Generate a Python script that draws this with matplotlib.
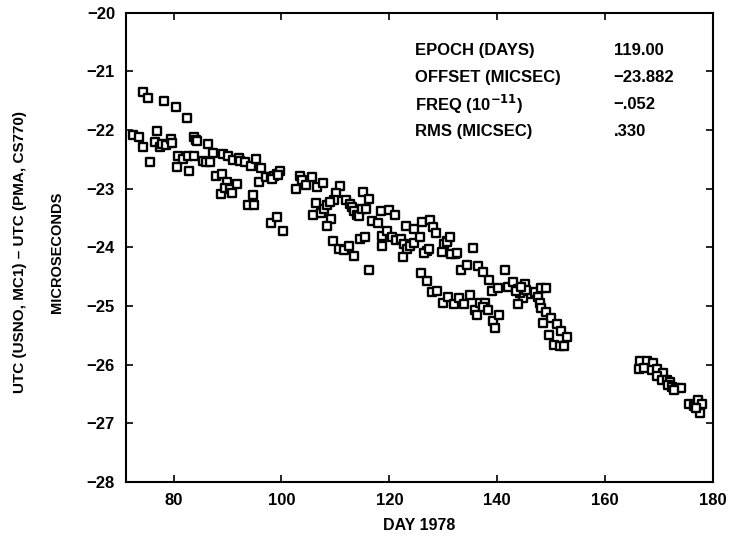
import matplotlib.pyplot as plt

# days (1978) and UTC difference in microseconds
days = [74.3, 75.3, 78.3, 80.4, 82.5, 72.4, 73.5, 74.4, 75.6, 76.9,
        76.5, 77.5, 77.8, 78.6, 79.6, 79.7, 80.9, 80.7, 81.8, 82.7,
        82.9, 83.7, 83.7, 84.2, 84.4, 85.4, 86.0, 86.8, 86.4, 87.4,
        87.9, 89.0, 88.7, 89.2, 90.1, 89.9, 89.6, 90.4, 90.9, 91.7,
        91.0, 92.1, 92.4, 93.2, 94.3, 95.2, 96.2, 95.8, 94.7, 93.8,
        95.0, 98.1, 99.1, 100.2, 97.2, 98.0, 98.7, 99.2, 99.8, 98.3,
        99.4, 102.7, 103.5, 103.8, 104.6, 105.6, 106.5, 106.4, 105.9, 107.7,
        110.9, 110.1, 109.8, 107.4, 107.9, 108.5, 109.0, 109.2, 108.4, 111.9,
        112.8, 113.1, 113.5, 114.0, 114.4, 115.2, 114.9, 115.6, 116.3, 116.8,
        117.9, 118.4, 120.0, 121.1, 109.5, 110.6, 111.6, 112.5, 113.5, 114.5,
        115.4, 116.3, 118.6, 118.7, 119.6, 120.5, 121.3, 122.1, 122.7, 123.3,
        123.9, 124.5, 125.6, 122.5, 123.0, 124.5, 126.1, 127.6, 128.1, 128.6,
        126.9, 126.5, 127.3, 130.7, 130.1, 130.6, 131.2, 129.7, 132.1, 131.5,
        132.5, 135.6, 125.8, 126.9, 127.9, 128.9, 129.9, 130.9, 131.9, 133.0,
        133.9, 135.0, 133.3, 134.4, 136.4, 137.4, 138.5, 135.9, 136.2, 136.8,
        137.8, 137.4, 138.2, 139.0, 140.1, 139.2, 139.5, 140.3, 141.5, 142.0,
        143.0, 143.9, 145.1, 145.7, 144.8, 143.9, 147.0, 147.6, 144.8, 144.3,
        145.4, 143.5, 144.4, 148.1, 149.1, 147.9, 148.2, 149.0, 150.0, 151.1,
        151.9, 152.9, 148.5, 149.6, 150.5, 151.6, 152.4, 166.5, 167.8, 168.8,
        166.3, 167.3, 168.7, 169.7, 170.8, 169.7, 170.6, 171.4, 172.1, 171.6,
        172.4, 173.1, 174.0, 172.7, 175.6, 176.5, 177.2, 178.0, 177.6, 176.8]
utc_diff = [-21.35, -21.46, -21.50, -21.61, -21.80, -22.09, -22.11, -22.28, -22.54, -22.02,
            -22.21, -22.28, -22.23, -22.26, -22.15, -22.22, -22.44, -22.63, -22.50, -22.44,
            -22.70, -22.44, -22.12, -22.17, -22.19, -22.52, -22.55, -22.55, -22.23, -22.39,
            -22.79, -22.75, -23.09, -22.41, -22.45, -22.88, -22.98, -23.01, -23.08, -22.92,
            -22.51, -22.47, -22.52, -22.55, -22.62, -22.50, -22.64, -22.88, -23.10, -23.27,
            -23.27, -23.58, -23.49, -23.72, -22.80, -22.80, -22.79, -22.75, -22.70, -22.84,
            -22.77, -23.00, -22.78, -22.85, -22.94, -22.80, -22.97, -23.25, -23.45, -22.91,
            -22.95, -23.08, -23.20, -23.42, -23.35, -23.28, -23.23, -23.51, -23.64, -23.19,
            -23.26, -23.32, -23.38, -23.44, -23.47, -23.05, -23.34, -23.35, -23.18, -23.55,
            -23.59, -23.38, -23.36, -23.44, -23.89, -24.03, -24.05, -23.97, -24.14, -23.85,
            -23.83, -24.39, -23.97, -23.81, -23.72, -23.83, -23.88, -23.85, -23.95, -24.02,
            -23.98, -23.93, -23.83, -24.16, -23.64, -23.68, -23.57, -23.53, -23.65, -23.75,
            -24.06, -24.09, -24.03, -23.89, -23.95, -23.90, -23.83, -24.08, -24.12, -24.12,
            -24.10, -24.01, -24.43, -24.58, -24.76, -24.74, -24.95, -24.84, -24.96, -24.86,
            -24.96, -24.82, -24.39, -24.30, -24.32, -24.42, -24.55, -25.06, -25.15, -24.95,
            -24.95, -25.02, -25.07, -24.75, -24.70, -25.26, -25.37, -25.16, -24.39, -24.67,
            -24.59, -24.71, -24.62, -24.80, -24.86, -24.96, -24.76, -24.85, -24.75, -24.77,
            -24.72, -24.75, -24.68, -24.69, -24.69, -24.95, -25.03, -25.11, -25.20, -25.30,
            -25.42, -25.53, -25.29, -25.50, -25.67, -25.69, -25.69, -25.94, -25.93, -25.98,
            -26.07, -26.05, -26.09, -26.07, -26.15, -26.19, -26.27, -26.26, -26.30, -26.35,
            -26.38, -26.40, -26.40, -26.43, -26.68, -26.71, -26.61, -26.68, -26.82, -26.74]

x_ticks = [80, 100, 120, 140, 160, 180]
y_ticks = [-20, -21, -22, -23, -24, -25, -26, -27, -28]
fit_names = ["EPOCH (DAYS)", "OFFSET (MICSEC)", "FREQ (10$^{-11}$)", "RMS (MICSEC)"]
fit_values = ["119.00", "\u221223.882", "\u2212.052", ".330"]

plt.rcParams["font.family"] = ["Liberation Sans", "DejaVu Sans"]
plt.rcParams["font.weight"] = "bold"

fig = plt.figure(figsize=(7.29, 5.36), dpi=100)
ax = fig.add_axes([0.173, 0.101, 0.805, 0.875])

ax.scatter(days, utc_diff, marker="s", s=28, facecolors="white",
           edgecolors="black", linewidths=1.7, zorder=3)

ax.set_xlim(71.2, 180)
ax.set_ylim(-28, -20)
ax.set_xticks(x_ticks)
ax.set_yticks(y_ticks)
ax.tick_params(direction="in", top=True, right=True, length=5, width=1.2,
               labelsize=12, pad=8)
for lab in ax.get_xticklabels() + ax.get_yticklabels():
    lab.set_fontweight("bold")
for sp in ax.spines.values():
    sp.set_linewidth(1.5)

ax.set_xlabel("DAY 1978", fontsize=11.5, fontweight="bold", labelpad=7)
fig.text(0.028, 0.53, "UTC (USNO, MC1) \u2013 UTC (PMA, CS770)", rotation=90,
         ha="center", va="center", fontsize=11, fontweight="bold")
fig.text(0.078, 0.53, "MICROSECONDS", rotation=90,
         ha="center", va="center", fontsize=10.5, fontweight="bold")

for i, (name, val) in enumerate(zip(fit_names, fit_values)):
    y = 0.905 - i * 0.05
    fig.text(0.569, y, name, fontsize=12, fontweight="bold", va="center")
    fig.text(0.842, y, val, fontsize=12, fontweight="bold", va="center")

fig.savefig("out.png", dpi=100)
